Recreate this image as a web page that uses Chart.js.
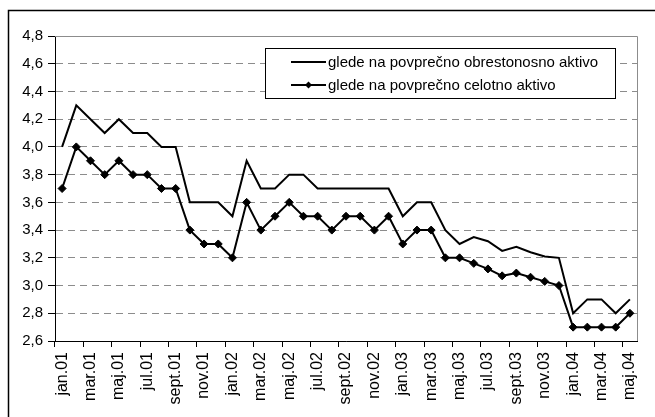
<!DOCTYPE html>
<html>
<head>
<meta charset="utf-8">
<script src="https://cdn.jsdelivr.net/npm/chart.js@4/dist/chart.umd.min.js"></script>
<style>
  html, body { margin: 0; padding: 0; background: #fff; }
  #wrap { width: 655px; height: 417px; position: relative; }
</style>
</head>
<body>
<div id="wrap"><canvas id="c" width="655" height="417"></canvas></div>
<script>
// Monthly categories, January 2001 to May 2004
const months = [
  'jan.01','feb.01','mar.01','apr.01','maj.01','jun.01','jul.01','avg.01','sept.01','okt.01','nov.01','dec.01',
  'jan.02','feb.02','mar.02','apr.02','maj.02','jun.02','jul.02','avg.02','sept.02','okt.02','nov.02','dec.02',
  'jan.03','feb.03','mar.03','apr.03','maj.03','jun.03','jul.03','avg.03','sept.03','okt.03','nov.03','dec.03',
  'jan.04','feb.04','mar.04','apr.04','maj.04'
];

// Interest margin relative to average interest-bearing assets
const obrestonosno = [
  4.0, 4.3, 4.2, 4.1, 4.2, 4.1, 4.1, 4.0, 4.0, 3.6, 3.6, 3.6,
  3.5, 3.9, 3.7, 3.7, 3.8, 3.8, 3.7, 3.7, 3.7, 3.7, 3.7, 3.7,
  3.5, 3.6, 3.6, 3.4, 3.3, 3.35, 3.32, 3.25, 3.28, 3.24, 3.21, 3.2,
  2.8, 2.9, 2.9, 2.8, 2.9
];

// Interest margin relative to average total assets
const celotno = [
  3.7, 4.0, 3.9, 3.8, 3.9, 3.8, 3.8, 3.7, 3.7, 3.4, 3.3, 3.3,
  3.2, 3.6, 3.4, 3.5, 3.6, 3.5, 3.5, 3.4, 3.5, 3.5, 3.4, 3.5,
  3.3, 3.4, 3.4, 3.2, 3.2, 3.16, 3.12, 3.07, 3.09, 3.06, 3.03, 3.0,
  2.7, 2.7, 2.7, 2.7, 2.8
];

const seriesNames = [
  'glede na povprečno obrestonosno aktivo',
  'glede na povprečno celotno aktivo'
];

// Value axis range
const yMin = 2.6, yMax = 4.8, yStep = 0.2;

const FONT = "'Liberation Sans', Arial, sans-serif";

// Outer frame lines of the figure
const framePlugin = {
  id: 'frame',
  beforeDraw(chart) {
    const ctx = chart.ctx;
    ctx.save();
    ctx.fillStyle = '#fff';
    ctx.fillRect(0, 0, chart.width, chart.height);
    ctx.strokeStyle = '#000';
    ctx.lineWidth = 1.5;
    ctx.beginPath();
    ctx.moveTo(8.5, chart.height);
    ctx.lineTo(8.5, 10.5);
    ctx.lineTo(chart.width, 10.5);
    ctx.stroke();
    ctx.restore();
  }
};

// Grey border along the top and right of the plot area
const plotBorderPlugin = {
  id: 'plotBorder',
  beforeDatasetsDraw(chart) {
    const {ctx, chartArea: a} = chart;
    ctx.save();
    ctx.strokeStyle = '#8c8c8c';
    ctx.lineWidth = 1;
    ctx.beginPath();
    ctx.moveTo(Math.round(a.left), Math.round(a.top) + 0.5);
    ctx.lineTo(Math.round(a.right) + 0.5, Math.round(a.top) + 0.5);
    ctx.lineTo(Math.round(a.right) + 0.5, Math.round(a.bottom));
    ctx.stroke();
    ctx.restore();
  }
};

// Boxed legend placed inside the plot area
const boxLegendPlugin = {
  id: 'boxLegend',
  afterDatasetsDraw(chart) {
    const ctx = chart.ctx;
    const box = {x: 265.5, y: 48.5, w: 350, h: 50};
    ctx.save();
    ctx.fillStyle = '#fff';
    ctx.fillRect(box.x, box.y, box.w, box.h);
    ctx.strokeStyle = '#000';
    ctx.lineWidth = 1;
    ctx.strokeRect(box.x, box.y, box.w, box.h);
    ctx.font = '15px ' + FONT;
    ctx.textBaseline = 'middle';
    ctx.fillStyle = '#000';
    const rows = [62, 85];
    chart.data.datasets.forEach((ds, i) => {
      const y = rows[i];
      ctx.strokeStyle = ds.borderColor;
      ctx.lineWidth = ds.borderWidth;
      ctx.beginPath();
      ctx.moveTo(291, y);
      ctx.lineTo(326, y);
      ctx.stroke();
      if (ds.pointRadius > 0) {
        const cx = 308.5, r = 3.5;
        ctx.beginPath();
        ctx.moveTo(cx, y - r);
        ctx.lineTo(cx + r, y);
        ctx.lineTo(cx, y + r);
        ctx.lineTo(cx - r, y);
        ctx.closePath();
        ctx.fillStyle = '#000';
        ctx.fill();
      }
      ctx.fillStyle = '#000';
      ctx.fillText(ds.label, 328, y + 1);
    });
    ctx.restore();
  }
};

new Chart(document.getElementById('c'), {
  type: 'line',
  data: {
    labels: months,
    datasets: [
      {
        label: seriesNames[0],
        data: obrestonosno,
        borderColor: '#000',
        borderWidth: 2,
        pointRadius: 0,
        tension: 0,
        fill: false
      },
      {
        label: seriesNames[1],
        data: celotno,
        borderColor: '#000',
        borderWidth: 2,
        pointStyle: 'rectRot',
        pointRadius: 4,
        pointBackgroundColor: '#000',
        pointBorderColor: '#000',
        pointBorderWidth: 1,
        tension: 0,
        fill: false
      }
    ]
  },
  options: {
    responsive: false,
    animation: false,
    layout: { padding: { top: 36, right: 18, left: 0, bottom: 0 } },
    plugins: {
      legend: { display: false },
      tooltip: { enabled: false },
      title: { display: false }
    },
    scales: {
      x: {
        type: 'category',
        offset: true,
        afterFit(scale) { scale.height = 76; },
        grid: {
          offset: true,
          drawOnChartArea: false,
          drawTicks: true,
          tickLength: 6,
          tickColor: (ctx) => (ctx.index % 2 === 0 ? '#000' : 'rgba(0,0,0,0)'),
          color: '#000'
        },
        border: { display: true, color: '#000', width: 1 },
        ticks: {
          autoSkip: false,
          minRotation: 90,
          maxRotation: 90,
          padding: 5,
          color: '#000',
          font: { family: FONT, size: 16 },
          callback: (value, index) => (index % 2 === 0 ? months[index] : '')
        }
      },
      y: {
        min: yMin,
        max: yMax,
        afterFit(scale) { scale.width = 55; },
        grid: {
          color: '#8c8c8c',
          lineWidth: 1,
          drawTicks: true,
          tickLength: 7,
          tickColor: '#000'
        },
        border: { display: true, color: '#000', width: 1, dash: [7, 5] },
        ticks: {
          stepSize: yStep,
          padding: 5,
          color: '#000',
          font: { family: FONT, size: 15 },
          callback: (v) => Number(v).toFixed(1).replace('.', ',')
        }
      }
    }
  },
  plugins: [framePlugin, plotBorderPlugin, boxLegendPlugin]
});
</script>
</body>
</html>
